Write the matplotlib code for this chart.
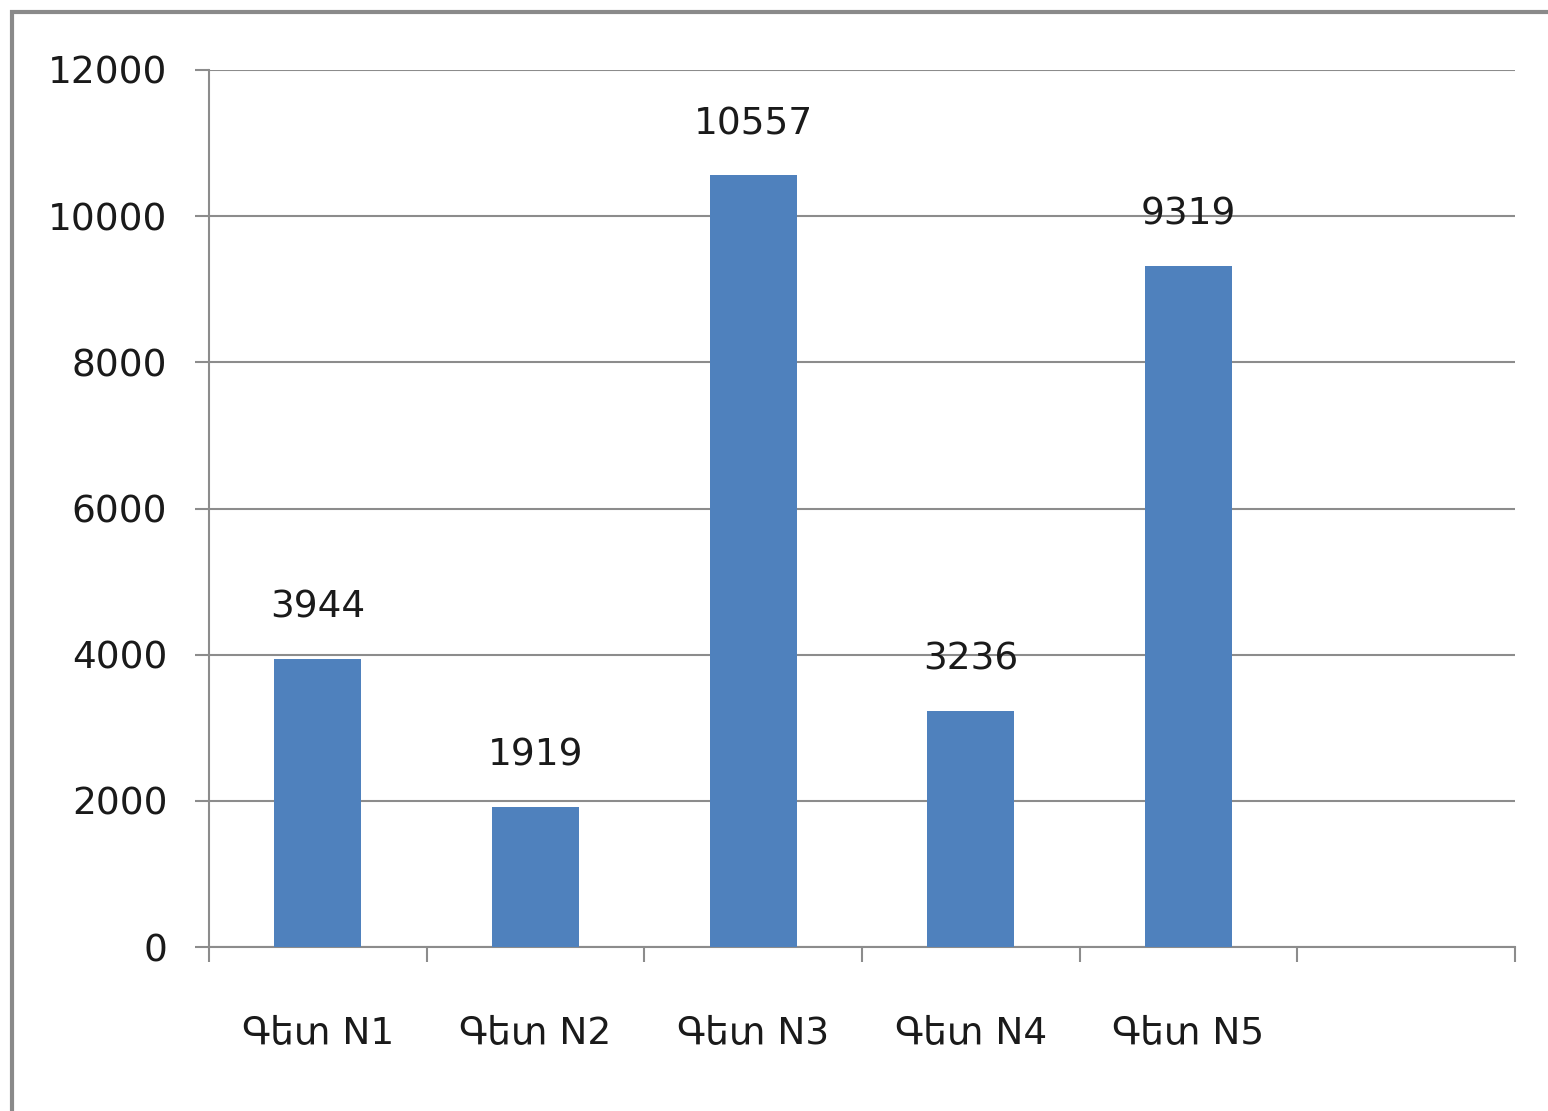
import matplotlib
matplotlib.use('Agg')
import matplotlib.pyplot as plt
from matplotlib.patches import Rectangle

# 데이터
categories = ['Գետ N1', 'Գետ N2', 'Գետ N3', 'Գետ N4', 'Գետ N5']
values = [3944, 1919, 10557, 3236, 9319]
yticks = [0, 2000, 4000, 6000, 8000, 10000, 12000]

plt.rcParams['font.family'] = ['DejaVu Sans']

bar_color = '#4F81BD'
grid_color = '#8C8C8C'

fig = plt.figure(figsize=(15.48, 11.11), dpi=100)
ax = fig.add_axes([0.135, 0.1476, 0.8437, 0.7894])

# 바깥 테두리 (오른쪽/아래는 잘려 있음)
fig.patches.append(Rectangle((12 / 1548, -0.2), 1.2, 1.2 - 12 / 1111,
                             transform=fig.transFigure, fill=False,
                             edgecolor='#8A8A8A', linewidth=3))

n_slots = len(categories) + 1
centers = [i + 0.5 for i in range(len(categories))]
ax.bar(centers, values, width=0.4, color=bar_color, zorder=3)

for x, v in zip(centers, values):
    ax.annotate(str(v), (x, v), xytext=(0, 24), textcoords='offset points',
                ha='center', va='bottom', fontsize=27, color='#1a1a1a')

ax.set_xlim(0, n_slots)
ax.set_ylim(0, 12000)
ax.set_yticks(yticks)
ax.set_yticklabels([str(t) for t in yticks], fontsize=27, color='#1a1a1a')
ax.grid(axis='y', color=grid_color, linewidth=1.5, zorder=0)

ax.set_xticks(centers)
ax.set_xticklabels(categories, fontsize=27, color='#1a1a1a')
ax.set_xticks(range(n_slots + 1), minor=True)
ax.tick_params(axis='x', which='major', length=0, pad=50)
ax.tick_params(axis='x', which='minor', length=11, width=1.5, color=grid_color)
ax.tick_params(axis='y', length=10, width=1.5, color=grid_color, pad=20)

for s in ['top', 'right']:
    ax.spines[s].set_visible(False)
for s in ['left', 'bottom']:
    ax.spines[s].set_color(grid_color)
    ax.spines[s].set_linewidth(1.5)

fig.savefig('out.png', dpi=100)
